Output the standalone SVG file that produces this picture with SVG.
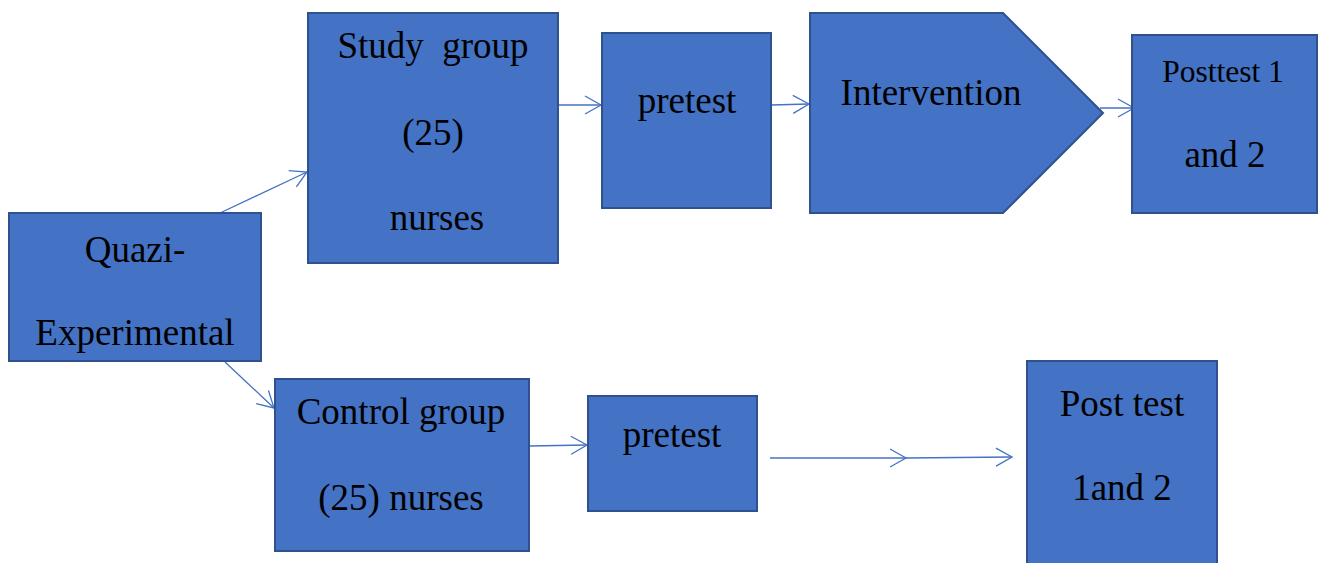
<svg xmlns="http://www.w3.org/2000/svg" width="1321" height="563" viewBox="0 0 1321 563">
<defs>
<marker id="arr" markerUnits="userSpaceOnUse" markerWidth="24" markerHeight="24" refX="19" refY="12" orient="auto" viewBox="0 0 24 24">
<path d="M3,3 L19,12 L3,21" fill="none" stroke="#4472C4" stroke-width="1.3"/>
</marker>
</defs>
<style>
.box{fill:#4472C4;stroke:#2F528F;stroke-width:2}
.t{font-family:"Liberation Serif","Times New Roman",serif;font-size:37px;fill:#000;text-anchor:middle}
.c{fill:none;stroke:#4472C4;stroke-width:1.3}
</style>
<rect width="1321" height="563" fill="#fff"/>
<g id="connectors">
<line class="c" x1="220" y1="213" x2="307" y2="172" marker-end="url(#arr)"/>
<line class="c" x1="225" y1="362" x2="274" y2="408" marker-end="url(#arr)"/>
<line class="c" x1="558" y1="105" x2="601" y2="105" marker-end="url(#arr)"/>
<line class="c" x1="771" y1="105" x2="809" y2="104" marker-end="url(#arr)"/>
<line class="c" x1="1100" y1="108" x2="1134" y2="108" marker-end="url(#arr)"/>
<line class="c" x1="529" y1="446" x2="587" y2="445" marker-end="url(#arr)"/>
<line class="c" x1="770" y1="458" x2="906" y2="458" marker-end="url(#arr)"/>
<line class="c" x1="906" y1="458" x2="1012" y2="457" marker-end="url(#arr)"/>
</g>
<g id="quazi">
<rect class="box" x="9" y="213" width="252" height="148"/>
<text class="t" x="135" y="262">Quazi-</text>
<text class="t" x="135" y="345">Experimental</text>
</g>
<g id="study">
<rect class="box" x="308" y="13" width="250" height="250"/>
<text class="t" x="433" y="58" xml:space="preserve">Study  group</text>
<text class="t" x="433" y="145">(25)</text>
<text class="t" x="437" y="230">nurses</text>
</g>
<g id="pretest1">
<rect class="box" x="602" y="33" width="169" height="175"/>
<text class="t" x="687" y="113">pretest</text>
</g>
<g id="intervention">
<path class="box" d="M810,13 L1003,13 L1103,113 L1003,213 L810,213 Z"/>
<text class="t" x="931" y="105">Intervention</text>
</g>
<g id="posttest1">
<rect class="box" x="1132" y="35" width="185" height="178"/>
<text class="t" x="1223" y="82" style="font-size:31.5px">Posttest 1</text>
<text class="t" x="1225" y="167">and 2</text>
</g>
<g id="control">
<rect class="box" x="275" y="379" width="254" height="172"/>
<text class="t" x="401" y="424">Control group</text>
<text class="t" x="401" y="510">(25) nurses</text>
</g>
<g id="pretest2">
<rect class="box" x="588" y="396" width="169" height="115"/>
<text class="t" x="672" y="447">pretest</text>
</g>
<g id="posttest2">
<rect class="box" x="1027" y="361" width="190" height="210"/>
<text class="t" x="1122" y="416">Post test</text>
<text class="t" x="1122" y="500">1and 2</text>
</g>
</svg>
